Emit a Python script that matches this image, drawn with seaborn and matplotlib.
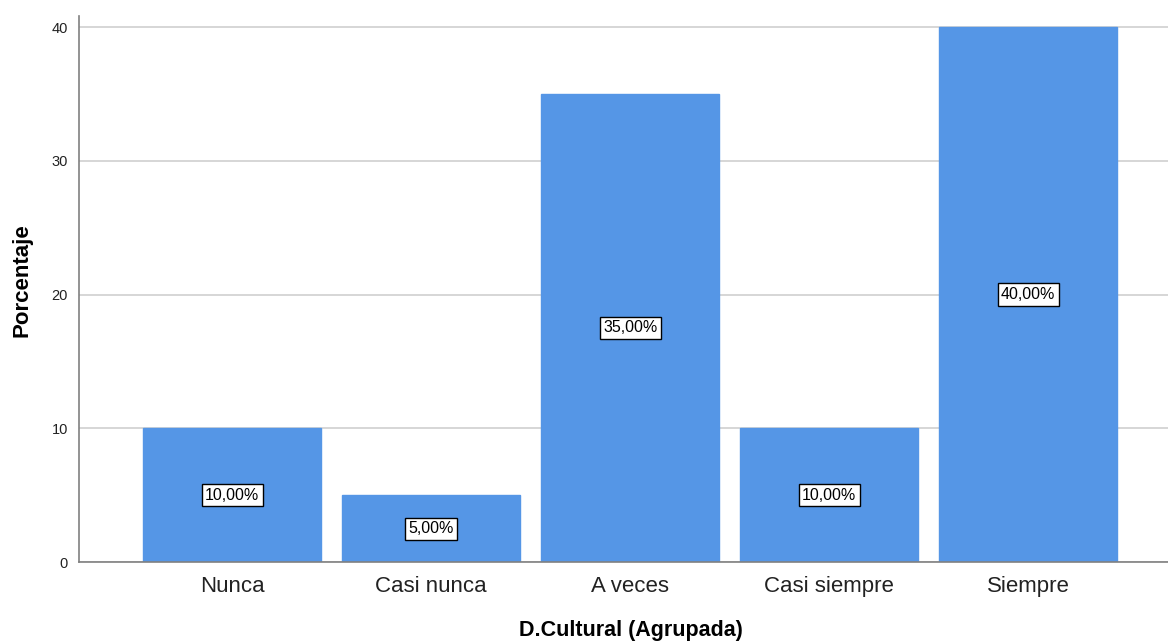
import matplotlib
matplotlib.use("Agg")
import matplotlib.pyplot as plt
import seaborn as sns
import pandas as pd

categorias = ["Nunca", "Casi nunca", "A veces", "Casi siempre", "Siempre"]
porcentajes = [10.0, 5.0, 35.0, 10.0, 40.0]
etiquetas = ["10,00%", "5,00%", "35,00%", "10,00%", "40,00%"]

sns.set_style("white")
plt.rcParams["font.family"] = ["Liberation Sans", "DejaVu Sans"]
plt.rcParams["text.color"] = "black"
plt.rcParams["axes.labelcolor"] = "black"
plt.rcParams["xtick.color"] = "#222222"
plt.rcParams["ytick.color"] = "#222222"

df = pd.DataFrame({"cat": categorias, "pct": porcentajes})

fig = plt.figure(figsize=(11.68, 6.42), dpi=100)
ax = fig.add_axes([0.0676, 0.1246, 0.932, 0.8504])

sns.barplot(data=df, x="cat", y="pct", color="#5596E6", saturation=1,
            width=0.895, ax=ax, zorder=2, edgecolor="#5596E6")

ax.set_ylim(0, 40.82)
ax.set_xlim(-0.77, 4.70)
ax.set_yticks([0, 10, 20, 30, 40])
ax.yaxis.grid(True, color="#d0d0d0", linewidth=1.2, zorder=0)
ax.set_axisbelow(True)
ax.tick_params(axis="y", labelsize=10.5, length=0, pad=8)
ax.tick_params(axis="x", labelsize=16, length=0, pad=10)

for s in ["top", "right"]:
    ax.spines[s].set_visible(False)
for s in ["left", "bottom"]:
    ax.spines[s].set_color("#808080")
    ax.spines[s].set_linewidth(1.2)

for i, (v, t) in enumerate(zip(porcentajes, etiquetas)):
    ax.text(i, v / 2, t, ha="center", va="center", fontsize=11.5,
            bbox=dict(boxstyle="square,pad=0.22", facecolor="white",
                      edgecolor="black", linewidth=1), zorder=4)

ax.set_xlabel("D.Cultural (Agrupada)", fontsize=15.5, fontweight="bold")
ax.set_ylabel("Porcentaje", fontsize=16, fontweight="bold")
ax.xaxis.set_label_coords(0.507, -0.106)
ax.yaxis.set_label_coords(-0.043, 0.516)

fig.savefig("out.png", dpi=100)
